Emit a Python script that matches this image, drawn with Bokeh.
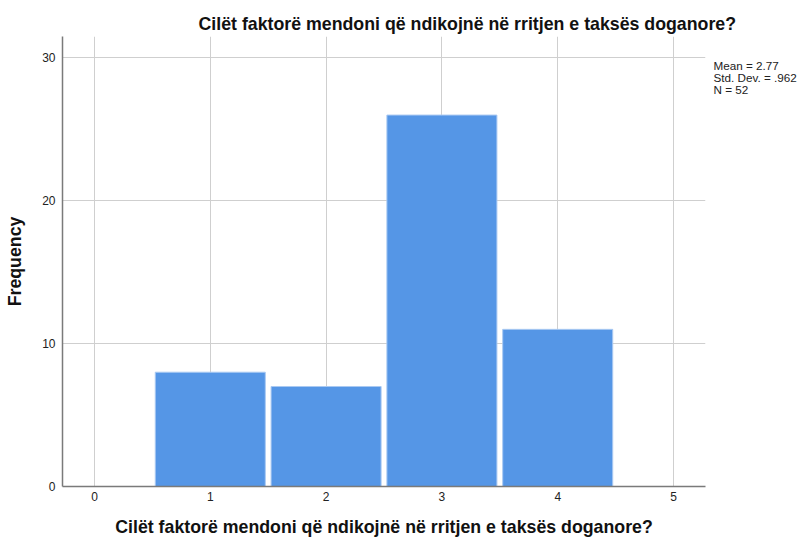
from bokeh.plotting import figure
from bokeh.models import FixedTicker, Range1d, Title, LinearAxis
from bokeh.embed import file_html
from bokeh.resources import INLINE

categories = [1, 2, 3, 4]
frequencies = [8, 7, 26, 11]
x_ticks = [0, 1, 2, 3, 4, 5]
y_ticks = [0, 10, 20, 30]
stats_lines = ["Mean = 2.77", "Std. Dev. = .962", "N = 52"]
stats_y = [29.5, 28.66, 27.82]
title_text = "Cilët faktorë mendoni që ndikojnë në rritjen e taksës doganore?"
x_label = "Cilët faktorë mendoni që ndikojnë në rritjen e taksës doganore?"
y_label = "Frequency"

FONT = "Liberation Sans"

p = figure(width=801, height=540, output_backend="svg", toolbar_location=None,
           x_range=Range1d(-0.276, 5.276), y_range=Range1d(0, 31.5),
           min_border_left=62, min_border_right=96, min_border_top=36, min_border_bottom=54)
p.title = None
t = Title(text=title_text, align="left", offset=136, text_font=FONT, standoff=6,
          text_font_size="17.75px", text_font_style="bold", text_color="#111111")
p.add_layout(t, "above")

p.vbar(x=categories, top=frequencies, width=0.95, bottom=0,
       fill_color="#5596e6", line_color="#a9c9f2", line_width=1)

p.xaxis.ticker = FixedTicker(ticks=x_ticks)
p.yaxis.ticker = FixedTicker(ticks=y_ticks)
p.xgrid.ticker = FixedTicker(ticks=x_ticks)
p.ygrid.ticker = FixedTicker(ticks=y_ticks)
for g in (p.xgrid, p.ygrid):
    g.grid_line_color = "#cfcfcf"
    g.grid_line_width = 1

p.outline_line_color = None
for ax in (p.xaxis, p.yaxis):
    ax.axis_line_color = "#7a7a7a"
    ax.axis_line_width = 1.5
    ax.major_tick_line_color = None
    ax.minor_tick_line_color = None
    ax.major_tick_out = 0
    ax.major_tick_in = 0
    ax.minor_tick_out = 0
    ax.major_label_text_font = FONT
    ax.major_label_text_font_size = "12px"
    ax.major_label_text_color = "#222222"
    ax.axis_label_text_font = FONT
    ax.axis_label_text_font_style = "bold"
    ax.axis_label_text_color = "#111111"
    ax.axis_label_text_font_size = "17.75px"

p.xaxis.axis_label = x_label
p.xaxis.major_label_standoff = 5
p.xaxis.axis_label_standoff = 13
p.yaxis.axis_label = y_label
p.yaxis.major_label_standoff = 7
p.yaxis.axis_label_standoff = 14

stats_axis = LinearAxis(ticker=FixedTicker(ticks=stats_y),
                        major_label_overrides={y: s for y, s in zip(stats_y, stats_lines)})
stats_axis.axis_line_color = None
stats_axis.major_tick_line_color = None
stats_axis.minor_tick_line_color = None
stats_axis.major_tick_out = 0
stats_axis.major_tick_in = 0
stats_axis.minor_tick_out = 0
stats_axis.major_label_standoff = 8
stats_axis.major_label_text_font = FONT
stats_axis.major_label_text_font_size = "11.7px"
stats_axis.major_label_text_color = "#222222"
p.add_layout(stats_axis, "right")

open("out.html", "w").write(file_html(p, INLINE))
